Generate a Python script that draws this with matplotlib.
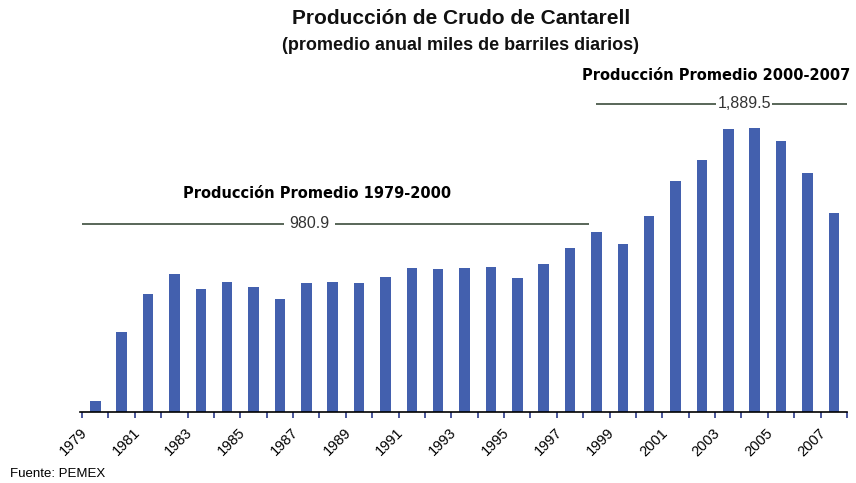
import matplotlib.pyplot as plt
import numpy as np

years = list(range(1979, 2008))
produccion = [81, 604, 886, 1037, 924, 982, 944, 853, 974, 982, 974, 1015, 1087, 1075,
              1083, 1090, 1007, 1115, 1238, 1354, 1264, 1478, 1742, 1900, 2132, 2140,
              2046, 1804, 1502]
prom_label_1 = '980.9'
prom_label_2 = '1,889.5'

bar_color = '#4360ae'
line_color = '#4b5a4b'

fig = plt.figure(figsize=(8.56, 4.83), dpi=100)
ax = fig.add_axes([80 / 856, (483 - 411.7) / 483, 767 / 856, 351.7 / 483])

x = np.arange(len(years))
ax.bar(x, produccion, width=0.4, color=bar_color)
ax.set_xlim(-0.5, len(years) - 0.5)
ax.set_ylim(0, 2655)

for s in ['top', 'right', 'left']:
    ax.spines[s].set_visible(False)
ax.spines['bottom'].set_linewidth(1.2)
ax.set_yticks([])

# ticks at the category boundaries, labels under every other year
ax.set_xticks(np.arange(len(years) + 1) - 0.5)
ax.set_xticklabels([])
ax.tick_params(axis='x', which='major', direction='out', length=4, width=1.2, color='#2b3a8a')
lab_pos = [i - 0.58 for i in x[::2]]
ax.set_xticks(lab_pos, minor=True)
ax.set_xticklabels([str(y) for y in years[::2]], minor=True, rotation=45, ha='right',
                   rotation_mode='anchor', fontsize=10.5, family='Liberation Sans')
ax.tick_params(axis='x', which='minor', length=0, pad=10)

# average lines
ax.hlines(1417, -0.5, 18.7, color=line_color, lw=1.3)
ax.text(8.12, 1417, prom_label_1, ha='center', va='center', fontsize=11.5, color='#333333',
        family='Liberation Sans', bbox=dict(facecolor='white', edgecolor='none', pad=4))
ax.hlines(2323, 19.0, 28.5, color=line_color, lw=1.3)
ax.text(24.6, 2323, prom_label_2, ha='center', va='center', fontsize=11.5, color='#333333',
        family='Liberation Sans', bbox=dict(facecolor='white', edgecolor='none', pad=1))

fig.text(317 / 856, 1 - 193 / 483, 'Producción Promedio 1979-2000', ha='center', va='center',
         fontsize=10.5, fontweight='bold', family='DejaVu Sans')
fig.text(716 / 856, 1 - 76 / 483, 'Producción Promedio 2000-2007', ha='center', va='center',
         fontsize=10.5, fontweight='bold', family='DejaVu Sans')

fig.text(461 / 856, 1 - 19 / 483, 'Producción de Crudo de Cantarell', ha='center', va='center',
         fontsize=15, fontweight='bold', family='Liberation Sans', color='#111111')
fig.text(461 / 856, 1 - 45 / 483, '(promedio anual miles de barriles diarios)', ha='center',
         va='center', fontsize=13, fontweight='bold', family='Liberation Sans', color='#111111')
fig.text(10 / 856, 1 - 474 / 483, 'Fuente: PEMEX', ha='left', va='center', fontsize=9.5,
         family='Liberation Sans')

fig.savefig('out.png', dpi=100)
